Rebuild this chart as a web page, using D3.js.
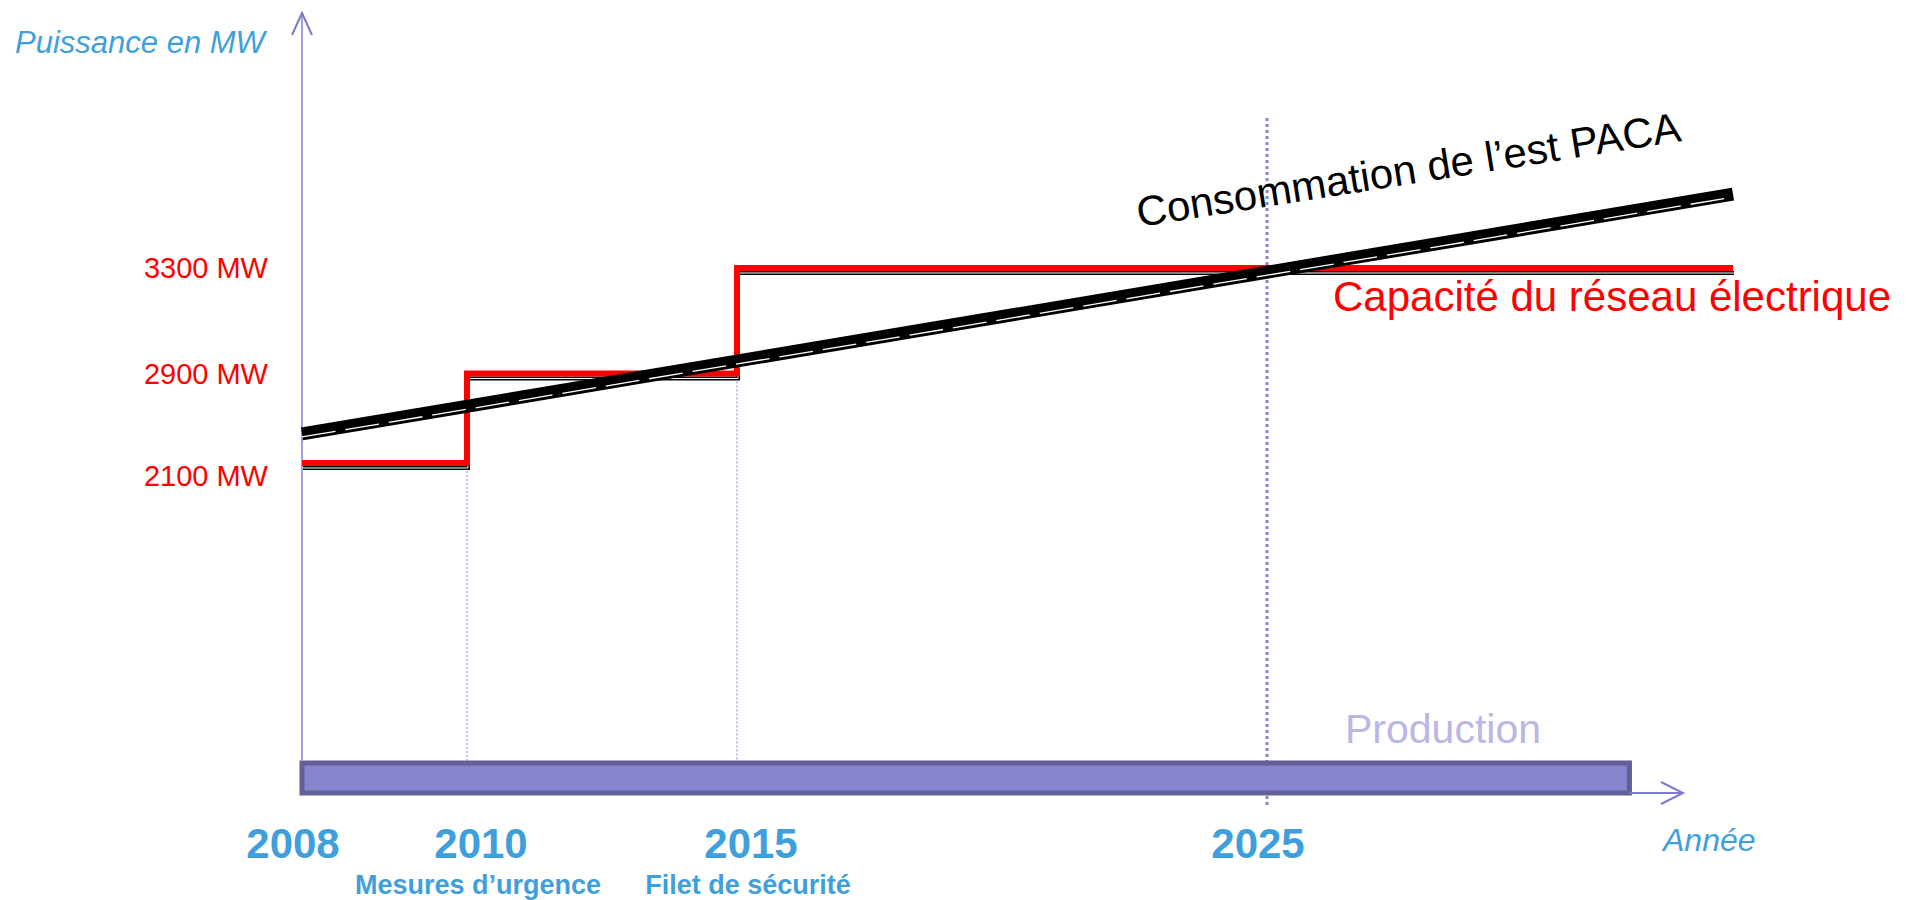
<!DOCTYPE html>
<html>
<head>
<meta charset="utf-8">
<script src="https://cdn.jsdelivr.net/npm/d3@7"></script>
<style>
    body { margin: 0; background: #ffffff; }
    text { font-family: "Liberation Sans", Arial, sans-serif; }
    .blue { fill: #3f9fdd; }
</style>
</head>
<body>
<div id="chart"></div>
<script>
// data
var tickYears = [2008, 2010, 2015, 2025];
var tickNotes = ["", "Mesures d\u2019urgence", "Filet de s\u00e9curit\u00e9", ""];
var levelMW = [2100, 2900, 3300];
var capacityYears = [2008, 2010, 2015, 2034];
var capacityMW = [2100, 2900, 3300, 3300];
var consumptionYears = [2008, 2034];
var consumptionMW = [2360, 3580];
var productionYears = [2008, 2032];

//globals
var width = 1906, height = 900, svg, x, y;

function init() {

    svg = d3.select("#chart").append("svg")
        .attr("width", width)
        .attr("height", height);

    // schematic scales, the picture is not drawn to scale so they are piecewise
    x = d3.scaleLinear()
        .domain([2008, 2010, 2015, 2025, 2034])
        .range([302, 467, 737, 1267, 1733]);

    y = d3.scaleLinear()
        .domain([0, 2100, 2900, 3300])
        .range([793, 463, 373.5, 268]);

    drawGuides();
    drawProduction();
    drawAxes();
    drawCapacity();
    drawConsumption();
    drawLabels();
}

function drawGuides() {

    // thin dotted lines under each step
    svg.selectAll(".guide")
        .data([1, 2])
        .enter().append("line")
        .attr("class", "guide")
        .attr("x1", function (d) { return x(capacityYears[d]); })
        .attr("x2", function (d) { return x(capacityYears[d]); })
        .attr("y1", function (d) { return y(capacityMW[d - 1]); })
        .attr("y2", y(0))
        .attr("stroke", "#9a98dc")
        .attr("stroke-width", 1.2)
        .attr("stroke-dasharray", "2,2");

    // the thick dotted line at 2025
    svg.append("line")
        .attr("x1", x(2025)).attr("x2", x(2025))
        .attr("y1", 118).attr("y2", y(0) + 14)
        .attr("stroke", "#8583d6")
        .attr("stroke-width", 3)
        .attr("stroke-dasharray", "3,3");
}

function drawProduction() {

    svg.append("rect")
        .attr("x", x(productionYears[0]))
        .attr("y", y(0) - 30)
        .attr("width", x(productionYears[1]) - x(productionYears[0]))
        .attr("height", 30)
        .attr("fill", "#8784cd")
        .attr("stroke", "#635f97")
        .attr("stroke-width", 5);

    svg.append("text")
        .attr("x", 1345)
        .attr("y", 743)
        .style("font-size", "41px")
        .attr("fill", "#bab6e6")
        .text("Production");
}

function drawAxes() {

    var axisColor = "#7d7acd";

    // x axis, starts where the bar ends so it does not paint over it
    svg.append("line")
        .attr("x1", x(productionYears[1])).attr("x2", 1683)
        .attr("y1", y(0)).attr("y2", y(0))
        .attr("stroke", axisColor).attr("stroke-width", 2);

    svg.append("path")
        .attr("d", "M1661,782L1683,793L1661,804")
        .attr("fill", "none").attr("stroke", axisColor).attr("stroke-width", 2);

    // y axis
    svg.append("line")
        .attr("x1", x(2008)).attr("x2", x(2008))
        .attr("y1", y(0) - 32).attr("y2", 13)
        .attr("stroke", "#a19fe0").attr("stroke-width", 2);

    svg.append("path")
        .attr("d", "M" + (x(2008) - 10) + ",35L" + x(2008) + ",13L" + (x(2008) + 10) + ",35")
        .attr("fill", "none").attr("stroke", axisColor).attr("stroke-width", 2);

    svg.append("text")
        .attr("x", 15).attr("y", 53)
        .attr("class", "blue")
        .style("font-size", "31px").style("font-style", "italic")
        .text("Puissance en MW");

    svg.append("text")
        .attr("x", 1663).attr("y", 851)
        .attr("class", "blue")
        .style("font-size", "32px").style("font-style", "italic")
        .text("Ann\u00e9e");

    // years under the axis, the first and last sit a bit left, the middle ones a bit right
    svg.selectAll(".year")
        .data(tickYears)
        .enter().append("text")
        .attr("class", "year blue")
        .attr("x", function (d, i) { return x(d) + (tickNotes[i] ? 14 : -9); })
        .attr("y", 858)
        .attr("text-anchor", "middle")
        .style("font-size", "42px").style("font-weight", "bold")
        .text(function (d) { return d; });

    svg.selectAll(".note")
        .data(tickYears)
        .enter().append("text")
        .attr("class", "note blue")
        .attr("x", function (d) { return x(d) + 11; })
        .attr("y", 894)
        .attr("text-anchor", "middle")
        .style("font-size", "27px").style("font-weight", "bold")
        .text(function (d, i) { return tickNotes[i]; });

    // MW levels on the left, the lowest one hangs under its line
    svg.selectAll(".level")
        .data(levelMW)
        .enter().append("text")
        .attr("class", "level")
        .attr("x", 268)
        .attr("y", function (d, i) { return y(d) + (i === 0 ? 23 : 10); })
        .attr("text-anchor", "end")
        .attr("fill", "#ff0000")
        .style("font-size", "29px")
        .text(function (d) { return d + " MW"; });
}

function drawCapacity() {

    var capLine = d3.line()
        .x(function (d) { return x(d); })
        .y(function (d, i) { return y(capacityMW[i]); })
        .curve(d3.curveStepAfter);

    // black double line under the red step (shadow of the original slide)
    var shadow = svg.append("g").attr("transform", "translate(1,5)");
    shadow.append("path")
        .attr("d", capLine(capacityYears))
        .attr("fill", "none").attr("stroke", "#000").attr("stroke-width", 4);
    shadow.append("path")
        .attr("d", capLine(capacityYears))
        .attr("fill", "none").attr("stroke", "#fff").attr("stroke-width", 1);

    svg.append("path")
        .attr("d", capLine(capacityYears))
        .attr("fill", "none")
        .attr("stroke", "#ff0000")
        .attr("stroke-width", 6);
}

function drawConsumption() {

    var consLine = d3.line()
        .x(function (d) { return x(d); })
        .y(function (d, i) { return y(consumptionMW[i]); });

    svg.append("path")
        .attr("d", consLine(consumptionYears))
        .attr("fill", "none")
        .attr("stroke", "#000")
        .attr("stroke-width", 13);

    // the broken white streak inside the thick line
    svg.append("path")
        .attr("d", consLine(consumptionYears))
        .attr("transform", "translate(0,3)")
        .attr("fill", "none")
        .attr("stroke", "#fff")
        .attr("stroke-width", 1.3)
        .attr("stroke-dasharray", "34,10");
}

function drawLabels() {

    svg.append("text")
        .attr("transform", "translate(1139,227) rotate(-9)")
        .attr("fill", "#000")
        .style("font-size", "42px")
        .text("Consommation de l\u2019est PACA");

    svg.append("text")
        .attr("x", 1333).attr("y", 311)
        .attr("fill", "#ff0000")
        .style("font-size", "42px")
        .text("Capacit\u00e9 du r\u00e9seau \u00e9lectrique");
}

window.onload = init();
</script>
</body>
</html>
